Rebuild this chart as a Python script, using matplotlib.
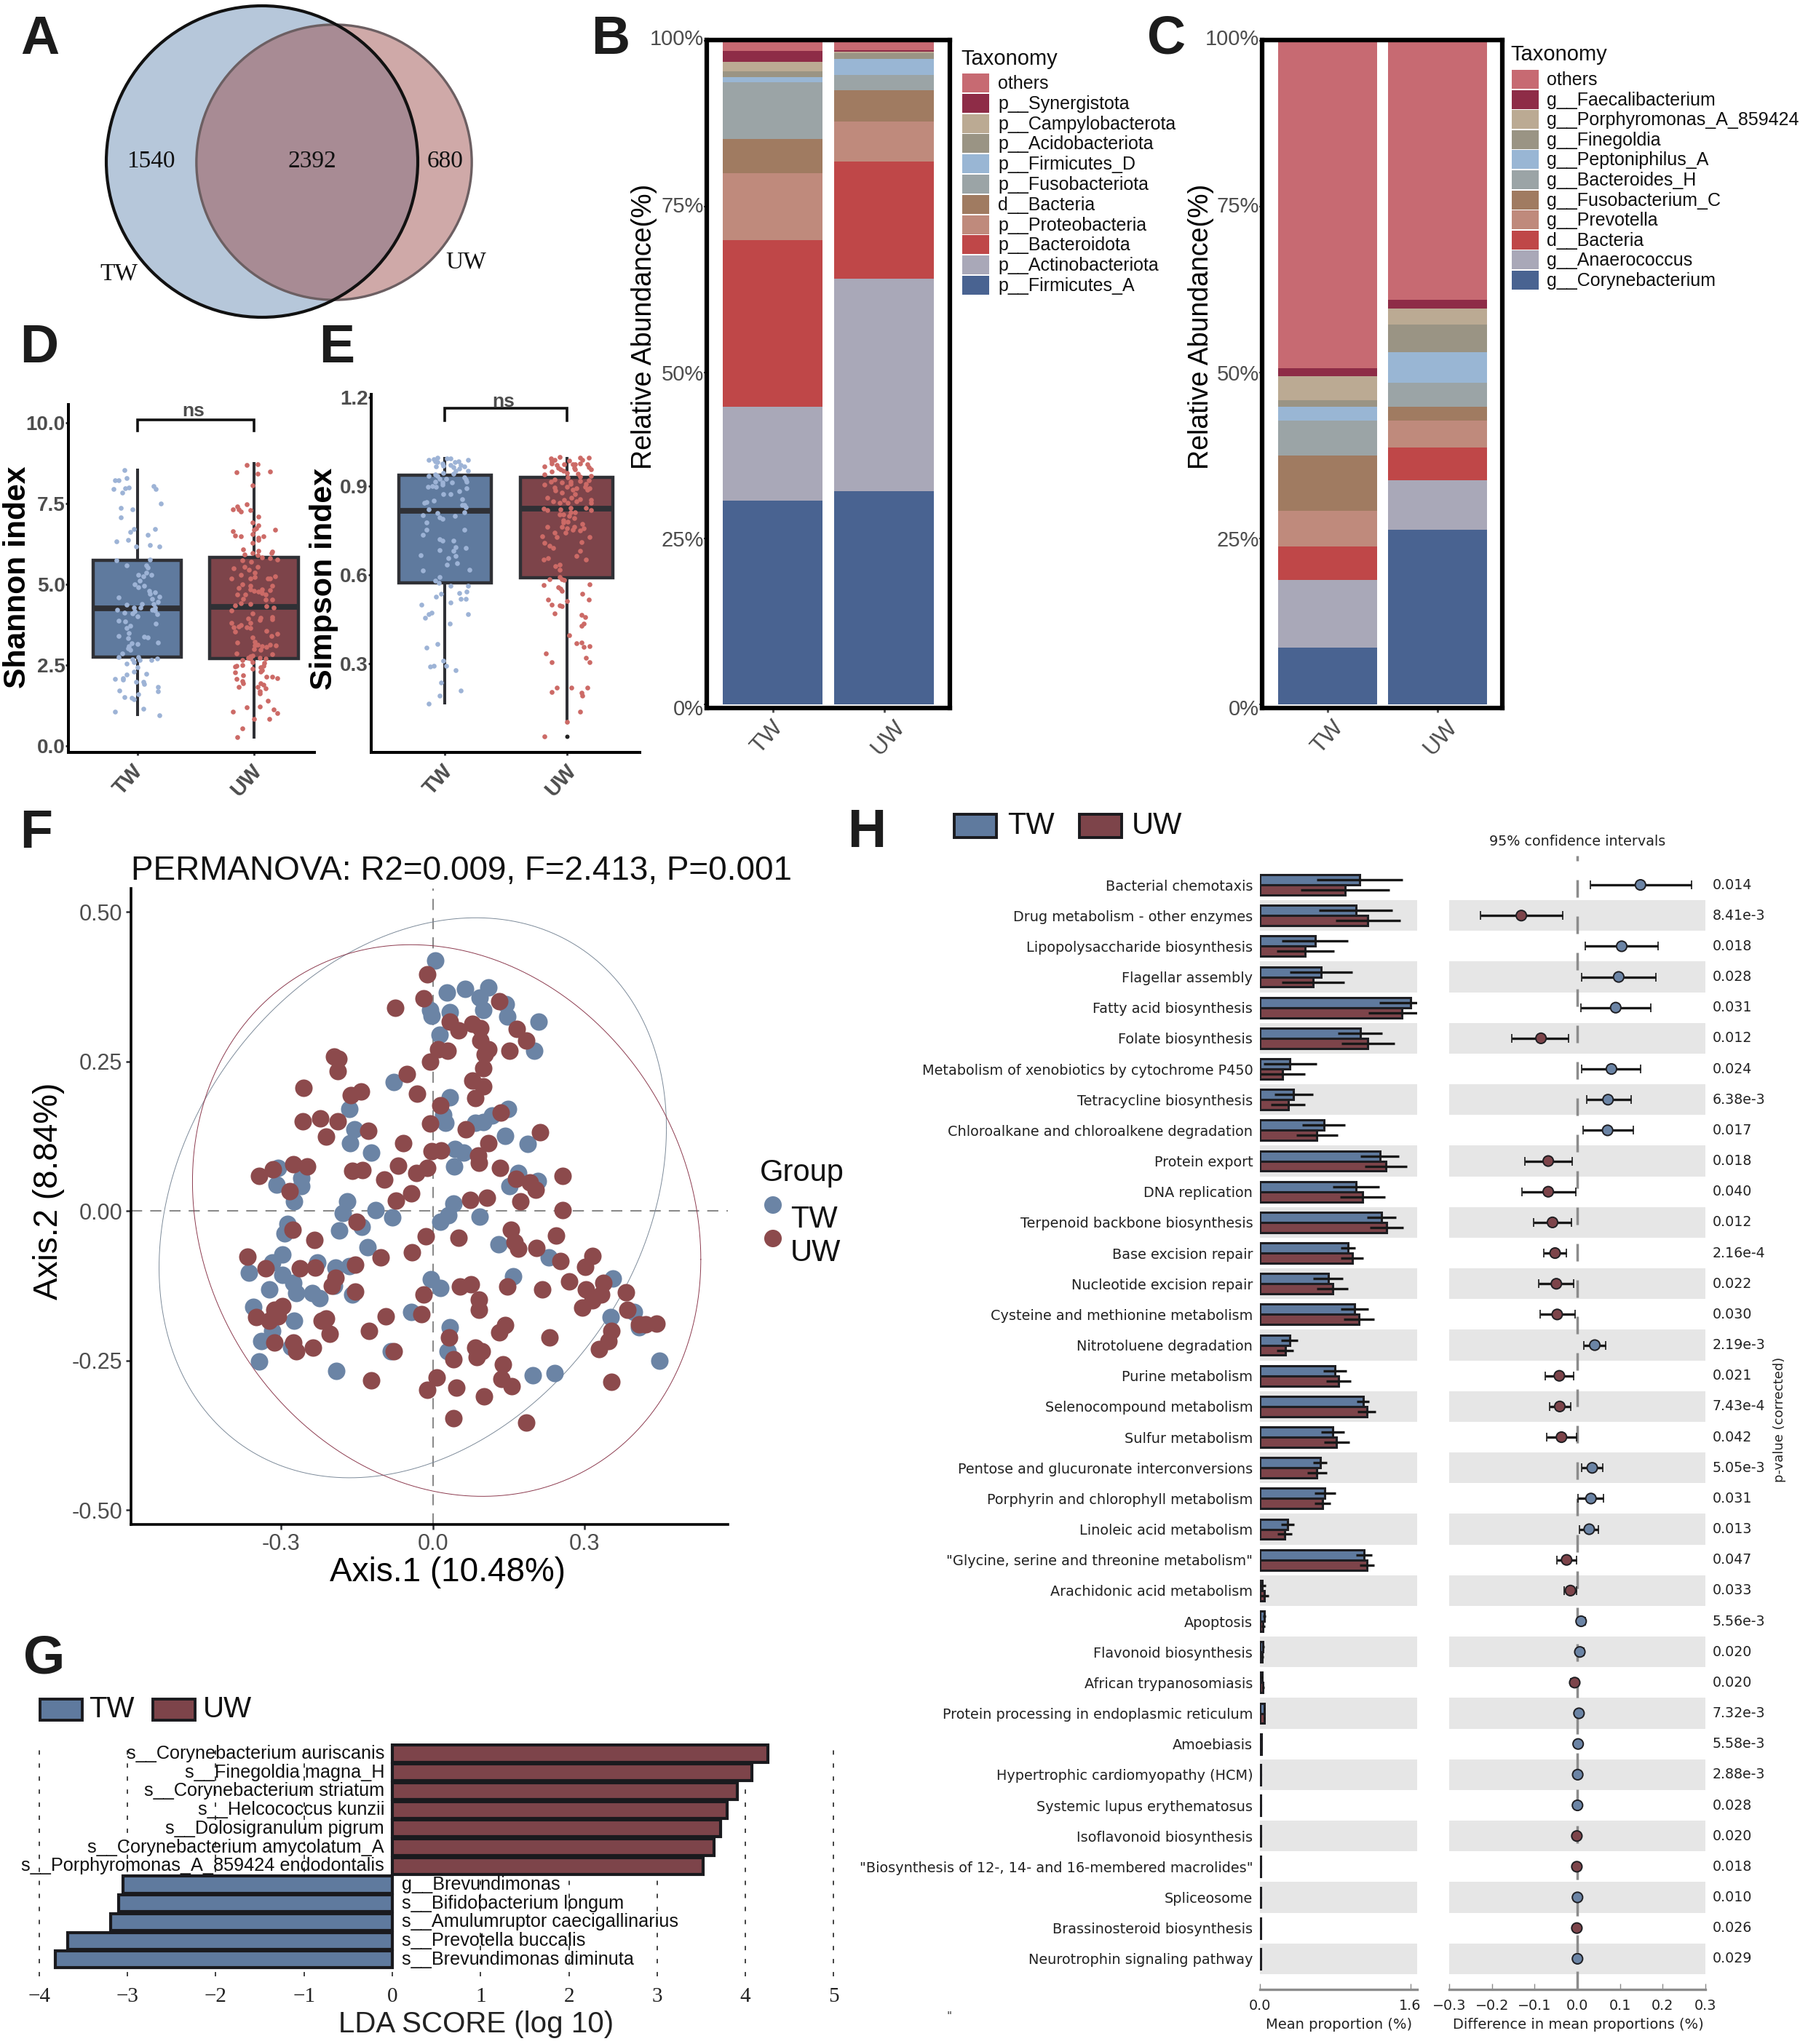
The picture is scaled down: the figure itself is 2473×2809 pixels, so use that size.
import numpy as np
import matplotlib
matplotlib.use("Agg")
import matplotlib.pyplot as plt
from matplotlib.patches import Circle, Rectangle
from matplotlib.transforms import ScaledTranslation

W, H = 2473, 2809
DPI = 100
plt.rcParams['font.family'] = ['Liberation Sans', 'DejaVu Sans']
plt.rcParams['lines.scale_dashes'] = False

# ---------- data ----------
groups = ['TW', 'UW']
venn_only_tw, venn_both, venn_only_uw = 1540, 2392, 680

phylum_labels = ['p__Firmicutes_A', 'p__Actinobacteriota', 'p__Bacteroidota', 'p__Proteobacteria', 'd__Bacteria',
                 'p__Fusobacteriota', 'p__Firmicutes_D', 'p__Acidobacteriota', 'p__Campylobacterota',
                 'p__Synergistota', 'others']
phylum_tw = [30.7, 14.1, 25.1, 10.1, 5.2, 8.5, 0.8, 0.9, 1.4, 1.7, 1.5]
phylum_uw = [32.1, 32.0, 17.7, 6.0, 4.7, 2.3, 2.5, 0.8, 0.3, 0.2, 1.4]

genus_labels = ['g__Corynebacterium', 'g__Anaerococcus', 'd__Bacteria', 'g__Prevotella', 'g__Fusobacterium_C',
                'g__Bacteroides_H', 'g__Peptoniphilus_A', 'g__Finegoldia', 'g__Porphyromonas_A_859424',
                'g__Faecalibacterium', 'others']
genus_tw = [8.5, 10.3, 5.0, 5.4, 8.3, 5.3, 2.0, 1.0, 3.7, 1.2, 49.3]
genus_uw = [26.3, 7.5, 4.9, 4.1, 2.0, 3.7, 4.6, 4.1, 2.4, 1.4, 39.0]
taxa_colors = ['#496391', '#A9A8B8', '#BF4748', '#BF8A7C', '#A07B61', '#9BA4A6', '#99B6D4', '#9A9484', '#BBAA93',
               '#8E2C47', '#C76A72']

# box statistics: low whisker, q1, median, q3, high whisker
shannon_box_tw = [0.97, 2.75, 4.26, 5.74, 8.54]
shannon_box_uw = [0.27, 2.70, 4.30, 5.83, 8.74]
simpson_box_tw = [0.166, 0.572, 0.816, 0.936, 0.993]
simpson_box_uw = [0.10, 0.590, 0.822, 0.928, 0.993]
simpson_outlier_uw = [0.054]

# jittered samples: (horizontal jitter, value)
shannon_tw = [(-.11,8.54),(-.09,8.29),(-.19,8.21),(-.16,8.21),(.14,8.03),(.16,7.96),(-.20,7.96),(-.10,7.97),(-.07,7.99),(-.13,7.83),
 (.20,7.49),(-.14,7.36),(-.04,7.32),(-.14,7.06),(-.03,6.71),(.15,6.72),(-.06,6.63),(.09,6.54),(-.18,6.32),(-.08,6.37),
 (.11,6.22),(-.01,6.17),(.19,6.16),(-.18,5.74),(.11,5.77),(-.09,5.59),(.08,5.59),(.09,5.52),(.08,5.36),(.01,5.30),
 (.05,5.24),(.12,5.30),(.02,5.12),(-.02,4.99),(.01,4.91),(.06,4.96),(.10,4.79),(.11,4.71),(.15,4.76),(-.16,4.60),
 (.19,4.62),(.13,4.56),(.18,4.46),(.04,4.39),(.14,4.39),(-.09,4.38),(-.03,4.29),(.03,4.28),(.15,4.28),(-.17,4.22),
 (.13,4.21),(.15,4.20),(-.11,4.12),(-.04,4.11),(-.02,4.17),(.00,4.02),(.17,4.07),(-.16,3.87),(-.10,3.85),(-.06,3.72),
 (-.09,3.65),(.16,3.78),(-.07,3.49),(-.16,3.41),(.06,3.39),(.09,3.36),(-.08,3.33),(-.05,3.18),(.00,3.16),(.18,3.19),
 (-.07,3.08),(-.08,3.03),(-.06,2.97),(-.13,2.86),(-.16,2.76),(-.04,2.68),(.01,2.76),(.02,2.65),(-.03,2.59),(.12,2.66),
 (.17,2.71),(-.09,2.54),(.00,2.43),(-.03,2.30),(-.09,2.21),(.08,2.24),(-.19,2.08),(-.12,2.10),(-.12,2.05),(-.01,1.99),
 (.05,1.98),(.06,1.91),(.18,1.82),(.18,1.69),(-.15,1.71),(.01,1.61),(-.11,1.52),(-.05,1.49),(-.03,1.45),(.05,1.16),
 (-.19,1.07),(.19,.94)]
shannon_uw = [(-.15,8.47),(-.06,8.69),(.03,8.72),(.14,8.48),(.03,8.43),(-.01,8.07),(-.18,7.32),(-.14,7.41),(-.13,7.32),(-.11,7.24),
 (-.06,7.47),(-.03,7.29),(.04,7.09),(-.01,6.92),(.04,6.82),(.02,6.73),(.00,6.68),(.18,6.69),(-.18,6.64),(-.16,6.50),
 (-.11,6.49),(-.01,6.55),(.08,6.49),(.04,6.44),(.04,6.38),(-.01,6.28),(-.09,6.09),(.04,6.04),(.16,6.02),(.15,5.97),
 (-.08,5.92),(-.01,5.97),(.03,5.91),(.07,5.83),(.14,5.80),(.20,5.76),(-.10,5.74),(-.02,5.69),(.03,5.55),(-.17,5.50),
 (-.08,5.53),(-.04,5.45),(.01,5.35),(-.11,5.29),(.18,5.25),(.01,5.23),(-.03,5.19),(-.19,5.17),(.12,5.18),(.14,5.17),
 (-.10,4.99),(.16,4.95),(-.03,4.95),(-.13,4.89),(-.03,4.84),(.14,4.81),(.00,4.80),(.04,4.77),(.07,4.84),(.07,4.74),
 (.10,4.69),(-.14,4.68),(-.07,4.69),(-.09,4.56),(.10,4.53),(.16,4.53),(-.11,4.41),(-.03,4.39),(-.16,4.34),(.11,4.32),
 (.17,4.28),(-.19,4.20),(-.01,4.10),(-.05,3.94),(.06,3.96),(.05,3.90),(.16,3.99),(.16,3.92),(-.19,3.81),(-.11,3.75),
 (-.03,3.81),(-.17,3.68),(-.13,3.69),(-.06,3.68),(-.03,3.64),(-.16,3.54),(.11,3.56),(.20,3.48),(.15,3.40),(-.01,3.36),
 (.01,3.23),(-.14,3.20),(.01,3.12),(.03,3.13),(.07,3.09),(.14,3.13),(.19,3.11),(.11,3.07),(.00,3.00),(.06,2.98),
 (-.15,2.87),(.16,2.85),(-.03,2.78),(-.01,2.80),(-.05,2.73),(-.03,2.70),(.05,2.72),(.10,2.71),(-.10,2.67),(-.01,2.60),
 (.09,2.57),(-.10,2.50),(-.15,2.49),(-.16,2.46),(.08,2.48),(.06,2.44),(-.01,2.38),(.07,2.34),(.06,2.29),(-.16,2.27),
 (-.09,2.18),(-.15,2.08),(.11,2.15),(.16,2.13),(.20,2.10),(-.10,2.00),(-.09,1.94),(.06,1.93),(.08,1.90),(-.13,1.82),
 (.03,1.82),(.10,1.79),(.05,1.70),(.05,1.63),(.12,1.40),(-.06,1.20),(.05,1.22),(.17,1.13),(.20,1.01),(-.18,1.05),
 (.00,.83),(.13,.83),(-.10,.55),(-.14,.27)]
simpson_tw = [(-.13,.989),(-.09,.991),(-.08,.983),(-.06,.994),(-.06,.981),(-.07,.966),(-.02,.976),(-.01,.968),(.02,.993),(.05,.993),
 (.08,.980),(.11,.984),(.19,.989),(.05,.971),(.07,.964),(.13,.971),(.16,.966),(.12,.958),(.09,.952),(.19,.950),
 (-.01,.943),(.07,.942),(-.13,.935),(-.08,.938),(-.06,.935),(.01,.925),(-.04,.923),(.16,.930),(.17,.921),(.18,.913),
 (-.08,.913),(.06,.912),(-.02,.911),(-.02,.904),(-.14,.896),(-.10,.900),(-.07,.898),(.18,.892),(.12,.883),(-.01,.873),
 (.05,.872),(-.09,.851),(.14,.854),(-.17,.842),(-.15,.845),(.14,.835),(.16,.835),(.17,.827),(-.13,.821),(.16,.812),
 (-.06,.809),(-.18,.801),(.08,.799),(-.04,.793),(-.02,.788),(-.15,.776),(-.15,.752),(.16,.751),(-.18,.734),(-.04,.719),
 (-.02,.715),(.07,.716),(.09,.692),(.17,.690),(-.04,.684),(.07,.681),(-.20,.666),(.09,.663),(.03,.656),(.02,.635),
 (.10,.639),(-.18,.614),(.20,.618),(-.04,.591),(-.08,.581),(-.05,.573),(.05,.563),(.19,.563),(.18,.543),(.12,.539),
 (-.03,.536),(-.07,.526),(.13,.518),(.17,.518),(.05,.506),(-.19,.498),(-.11,.473),(-.13,.467),(.19,.468),(-.16,.455),
 (.04,.436),(-.06,.365),(-.15,.355),(-.01,.309),(-.12,.291),(-.09,.292),(.01,.292),(.09,.277),(-.03,.237),(.13,.210),
 (-.04,.192),(-.13,.165)]
simpson_uw = [(-.13,.993),(-.06,.998),(-.12,.984),(-.10,.989),(-.12,.975),(-.18,.966),(-.08,.971),(-.07,.960),(-.05,.957),(-.02,.972),
 (.02,.986),(.11,.995),(.18,.996),(.13,.987),(.11,.976),(.05,.972),(.07,.972),(.06,.960),(.07,.956),(.17,.972),
 (.18,.964),(.20,.956),(-.12,.949),(-.18,.939),(-.03,.950),(.00,.943),(.09,.942),(.01,.930),(.11,.931),(.20,.934),
 (-.10,.921),(-.13,.915),(-.04,.912),(.03,.915),(.11,.917),(.18,.919),(-.18,.904),(.03,.907),(.16,.907),(.00,.896),
 (-.10,.894),(-.09,.885),(.08,.892),(.05,.888),(.15,.896),(.19,.893),(.17,.886),(-.04,.877),(.07,.872),(-.16,.861),
 (.04,.860),(-.11,.847),(-.06,.842),(-.02,.853),(.01,.843),(.08,.848),(.11,.854),(.20,.852),(.20,.844),(-.19,.823),
 (-.16,.819),(-.05,.821),(.03,.825),(.16,.825),(.20,.818),(-.06,.804),(-.03,.803),(.02,.799),(.03,.812),(.07,.811),
 (.06,.791),(-.03,.783),(-.03,.776),(.01,.780),(.13,.771),(-.16,.762),(-.04,.762),(.00,.758),(.06,.761),(.05,.753),
 (.14,.758),(.11,.750),(-.10,.741),(-.01,.741),(-.08,.728),(-.20,.730),(.19,.728),(-.18,.708),(.12,.709),(-.14,.698),
 (-.11,.690),(.11,.680),(.08,.664),(-.15,.657),(-.19,.651),(.16,.652),(-.06,.635),(-.09,.628),(-.06,.616),(-.06,.593),
 (-.14,.585),(-.04,.585),(-.02,.582),(-.19,.566),(.19,.568),(-.07,.559),(-.05,.554),(-.04,.545),(.13,.536),(.00,.511),
 (-.15,.516),(.18,.515),(-.12,.499),(-.06,.496),(-.04,.495),(-.10,.470),(.12,.464),(.15,.457),(.14,.436),(.12,.428),
 (.02,.395),(.08,.369),(.12,.370),(.14,.356),(.19,.358),(-.17,.333),(.16,.320),(-.12,.305),(.19,.305),(-.08,.219),
 (.04,.219),(.17,.219),(-.12,.203),(.12,.202),(.13,.192),(.11,.138),(.00,.104),(-.18,.054)]

pcoa_tw = [(.004,.418),(.027,.365),(.064,.371),(.109,.373),(.092,.357),(.144,.346),(.099,.336),(-.006,.336),(.034,.332),(-.003,.326),
 (.147,.325),(.209,.316),(.013,.294),(.200,.268),(-.077,.215),(.033,.190),(-.165,.171),(.020,.161),(.149,.171),(.025,.147),
 (.083,.147),(.099,.148),(.117,.159),(-.155,.136),(.143,.126),(-.164,.113),(.187,.112),(-.122,.097),(.043,.104),(.060,.097),
 (.042,.075),(.168,.063),(.208,.050),(-.307,.072),(-.309,.044),(-.260,.055),(-.260,.042),(.152,.042),(-.275,.016),(-.169,.016),
 (-.178,-.003),(-.114,.002),(-.080,-.011),(.041,.012),(.031,-.007),(.015,-.018),(.093,-.009),(-.288,-.022),(-.294,-.037),(-.186,-.033),
 (-.141,-.026),(-.130,-.061),(.129,-.056),(.229,-.078),(-.298,-.073),(-.318,-.086),(-.364,-.103),(-.228,-.086),(-.193,-.095),(-.165,-.092),
 (-.323,-.131),(-.297,-.107),(-.276,-.120),(-.270,-.137),(-.239,-.137),(-.225,-.146),(-.196,-.125),(-.159,-.140),(-.004,-.114),(.015,-.129),
 (.158,-.109),(-.355,-.160),(-.274,-.184),(-.043,-.169),(.355,-.113),(.351,-.177),(.398,-.169),(.408,-.194),(.033,-.194),(-.339,-.218),
 (-.318,-.201),(-.281,-.227),(-.083,-.234),(.029,-.234),(-.344,-.252),(-.191,-.267),(.197,-.275),(.240,-.271),(.448,-.250)]
pcoa_uw = [(-.012,.396),(-.019,.355),(-.074,.340),(.131,.351),(.033,.316),(.050,.302),(.078,.313),(.094,.306),(.094,.285),(.165,.304),
 (.184,.285),(.152,.268),(.110,.270),(.010,.270),(.029,.268),(-.006,.249),(-.196,.258),(-.187,.255),(-.188,.234),(-.052,.229),
 (.102,.262),(.099,.238),(.078,.218),(.099,.208),(.083,.189),(-.256,.206),(-.032,.196),(-.142,.200),(-.162,.194),(.014,.177),
 (-.258,.150),(-.223,.155),(-.188,.150),(-.212,.124),(-.006,.146),(.134,.165),(-.128,.134),(.065,.136),(.212,.131),(-.059,.113),
 (.110,.113),(-.003,.100),(.016,.101),(.089,.093),(.091,.080),(-.069,.076),(-.012,.072),(-.033,.063),(-.159,.067),(-.140,.068),
 (.133,.072),(-.344,.059),(-.316,.069),(-.276,.078),(-.249,.074),(-.096,.052),(.256,.059),(.164,.054),(.191,.048),(.203,.035),
 (-.284,.033),(-.043,.029),(-.073,.017),(.074,.018),(.107,.022),(.173,.016),(.257,.001),(-.151,-.018),(.154,-.031),(-.278,-.032),
 (-.235,-.048),(-.014,-.042),(.051,-.045),(.162,-.052),(.244,-.041),(-.041,-.069),(.168,-.063),(.204,-.062),(-.367,-.076),(-.331,-.096),
 (-.263,-.096),(-.233,-.095),(-.103,-.078),(-.154,-.090),(.252,-.084),(.316,-.075),(.301,-.093),(.270,-.118),(-.193,-.112),(-.200,-.125),
 (-.154,-.135),(.054,-.126),(.075,-.123),(.147,-.126),(.216,-.131),(.302,-.131),(.337,-.120),(.332,-.140),(-.019,-.140),(.381,-.136),
 (.091,-.148),(.316,-.150),(.295,-.161),(.385,-.165),(.091,-.165),(-.297,-.159),(-.313,-.165),(-.307,-.176),(-.350,-.177),(-.323,-.183),
 (-.212,-.180),(-.220,-.184),(-.023,-.173),(-.093,-.176),(-.204,-.205),(-.126,-.201),(.143,-.191),(.131,-.203),(.230,-.212),(.032,-.212),
 (.353,-.201),(.347,-.217),(.329,-.231),(.407,-.189),(.421,-.189),(.442,-.188),(-.313,-.220),(-.276,-.220),(-.237,-.228),(-.270,-.234),
 (-.078,-.234),(.083,-.229),(.097,-.235),(.086,-.244),(.041,-.248),(.138,-.257),(.136,-.281),(.155,-.293),(-.122,-.283),(.007,-.278),
 (.046,-.295),(-.012,-.299),(.101,-.310),(.353,-.286),(.041,-.347),(.185,-.354)]
# ellipse: centre x, centre y, half width, half height, correlation
ellipse_tw = (-.040, .022, .5015, .468, .249)
ellipse_uw = (.027, -.016, .5025, .461, -.141)

lda_labels = ['s__Corynebacterium auriscanis', 's__Finegoldia magna_H', 's__Corynebacterium striatum',
              's__Helcococcus kunzii', 's__Dolosigranulum pigrum', 's__Corynebacterium amycolatum_A',
              's__Porphyromonas_A_859424 endodontalis', 'g__Brevundimonas', 's__Bifidobacterium longum',
              's__Amulumruptor caecigallinarius', 's__Prevotella buccalis', 's__Brevundimonas diminuta']
lda_scores = [4.25, 4.07, 3.91, 3.79, 3.72, 3.64, 3.52, -3.05, -3.10, -3.19, -3.68, -3.82]

path_labels = ['Bacterial chemotaxis', 'Drug metabolism - other enzymes', 'Lipopolysaccharide biosynthesis',
 'Flagellar assembly', 'Fatty acid biosynthesis', 'Folate biosynthesis', 'Metabolism of xenobiotics by cytochrome P450',
 'Tetracycline biosynthesis', 'Chloroalkane and chloroalkene degradation', 'Protein export', 'DNA replication',
 'Terpenoid backbone biosynthesis', 'Base excision repair', 'Nucleotide excision repair',
 'Cysteine and methionine metabolism', 'Nitrotoluene degradation', 'Purine metabolism', 'Selenocompound metabolism',
 'Sulfur metabolism', 'Pentose and glucuronate interconversions', 'Porphyrin and chlorophyll metabolism',
 'Linoleic acid metabolism', '"Glycine, serine and threonine metabolism"', 'Arachidonic acid metabolism', 'Apoptosis',
 'Flavonoid biosynthesis', 'African trypanosomiasis', 'Protein processing in endoplasmic reticulum', 'Amoebiasis',
 'Hypertrophic cardiomyopathy (HCM)', 'Systemic lupus erythematosus', 'Isoflavonoid biosynthesis',
 '"Biosynthesis of 12-, 14- and 16-membered macrolides"', 'Spliceosome', 'Brassinosteroid biosynthesis',
 'Neurotrophin signaling pathway']
path_mean_tw = [1.059,1.020,.588,.654,1.601,1.065,.320,.359,.680,1.275,1.020,1.294,.935,.725,1.007,.314,.797,1.098,
                .778,.641,.693,.294,1.111,.026,.046,.033,.020,.046,.013,.008,.006,.006,.006,.006,.006,.006]
path_err_tw = [.458,.392,.353,.333,.327,.235,.281,.203,.229,.203,.248,.157,.078,.157,.144,.092,.124,.065,
               .124,.072,.111,.072,.085,.033,.013,.013,.013,.007,.003,.002,.001,.001,.001,.001,.001,.001]
path_mean_uw = [.908,1.150,.484,.562,1.510,1.150,.242,.301,.608,1.340,1.092,1.346,.980,.771,1.052,.268,.837,1.137,
                .817,.608,.667,.261,1.137,.046,.033,.026,.033,.046,.013,.008,.006,.006,.006,.006,.006,.006]
path_err_uw = [.471,.346,.307,.333,.359,.281,.235,.183,.222,.222,.242,.176,.118,.163,.163,.092,.131,.098,
               .137,.105,.085,.078,.078,.046,.020,.013,.013,.007,.003,.002,.001,.001,.001,.001,.001,.001]
diff_mean = [.148,-.131,.104,.097,.090,-.085,.080,.072,.071,-.068,-.068,-.058,-.052,-.049,-.047,.041,-.042,-.041,
             -.037,.035,.032,.028,-.025,-.016,.009,.006,-.006,.004,.002,.001,.0005,-.001,-.001,.0005,-.001,.0005]
diff_low = [.031,-.226,.018,.011,.008,-.153,.011,.022,.014,-.123,-.130,-.103,-.078,-.091,-.087,.015,-.075,-.064,
            -.071,.011,.002,.005,-.048,-.031,.001,-.002,-.015,-.004,-.001,-.002,-.002,-.003,-.003,-.002,-.003,-.002]
diff_high = [.268,-.034,.190,.184,.173,-.021,.149,.126,.131,-.012,-.004,-.014,-.025,-.008,-.005,.067,-.008,-.016,
             -.001,.060,.061,.050,-.002,-.002,.018,.015,.002,.011,.005,.004,.003,.001,.001,.003,.001,.003]
p_values = ['0.014','8.41e-3','0.018','0.028','0.031','0.012','0.024','6.38e-3','0.017','0.018','0.040','0.012',
            '2.16e-4','0.022','0.030','2.19e-3','0.021','7.43e-4','0.042','5.05e-3','0.031','0.013','0.047','0.033',
            '5.56e-3','0.020','0.020','7.32e-3','5.58e-3','2.88e-3','0.028','0.020','0.018','0.010','0.026','0.029']

BOX_TW, BOX_UW = '#5F7A9E', '#7D444A'
DOT_TW, DOT_UW = '#9DB3D6', '#CC6A66'
PC_TW, PC_UW = '#6B84A5', '#8C4A4C'
DARK = '#2F3035'
GREY = '#4D4D4D'

# ---------- layout helpers ----------
fig = plt.figure(figsize=(W / DPI, H / DPI), dpi=DPI, facecolor='white')


def px_axes(x0, y0, x1, y1, **kw):
    ax = fig.add_axes([x0 / W, 1 - y1 / H, (x1 - x0) / W, (y1 - y0) / H], **kw)
    ax.patch.set_visible(False)
    return ax


def label_at(ax, which, text, cx, cy, **kw):
    """Axis title centred on a figure pixel position."""
    bb = ax.get_position()
    tx = (cx / W - bb.x0) / bb.width
    ty = ((1 - cy / H) - bb.y0) / bb.height
    if which == 'x':
        ax.set_xlabel(text, va='center', **kw)
        ax.xaxis.set_label_coords(tx, ty)
    else:
        ax.set_ylabel(text, va='center', **kw)
        ax.yaxis.set_label_coords(tx, ty)


def shift_xticklabels(ax, shifts):
    for lbl, s in zip(ax.get_xticklabels(), shifts):
        lbl.set_transform(lbl.get_transform() + ScaledTranslation(s / DPI, 0, fig.dpi_scale_trans))


over = fig.add_axes([0, 0, 1, 1], zorder=20)
over.set_xlim(0, W)
over.set_ylim(H, 0)
over.axis('off')
over.patch.set_alpha(0)


def T(x, y, s, size, **kw):
    kw.setdefault('va', 'center')
    kw.setdefault('ha', 'left')
    return over.text(x, y, s, fontsize=size, **kw)


for s, x, y in [('A', 28, 74), ('B', 812, 74), ('C', 1576, 74), ('D', 27, 498), ('E', 438, 498), ('F', 27, 1165),
                ('G', 32, 2299), ('H', 1164, 1164)]:
    T(x, y, s, 53, fontweight='bold', va='baseline', color='#1C1C1C')

# ---------- A: Venn ----------
unit = 214 / np.sqrt(venn_only_tw + venn_both)
r_tw = unit * np.sqrt(venn_only_tw + venn_both)
r_uw = unit * np.sqrt(venn_only_uw + venn_both)
over.add_patch(Circle((360, 222), r_tw, facecolor='#B6C7DA', edgecolor='none'))
over.add_patch(Circle((459, 223), r_uw, facecolor=(153 / 255, 72 / 255, 70 / 255, .47), edgecolor='#6C5F62', lw=2.4))
over.add_patch(Circle((360, 222), r_tw, facecolor='none', edgecolor='#111111', lw=3.0))
for x, y, s in [(207, 222, str(venn_only_tw)), (429, 222, str(venn_both)), (612, 222, str(venn_only_uw)),
                (163, 376, 'TW'), (640, 360, 'UW')]:
    T(x, y, s, 24, ha='center', family='Liberation Serif', color='#111111')


# ---------- B, C: stacked bars ----------
def stacked(rect, tw, uw, ylab_x, shifts):
    ax = px_axes(*rect)
    bottom = np.zeros(2)
    for a, b, c in zip(tw, uw, taxa_colors):
        ax.bar([1, 2], [a, b], bottom=bottom, width=.9, color=c, linewidth=0)
        bottom += [a, b]
    ax.set_xlim(.407, 2.592)
    ax.set_ylim(-.55, 100.1)
    ax.set_yticks([0, 25, 50, 75, 100], ['0%', '25%', '50%', '75%', '100%'])
    ax.set_xticks([1, 2], groups, rotation=48)
    ax.tick_params(axis='y', labelsize=21, labelcolor=GREY, length=3, width=1.5, pad=0, color=GREY)
    ax.tick_params(axis='x', labelsize=23, labelcolor=GREY, length=4, width=2, pad=4, color=GREY)
    for lbl, s in zip(ax.get_yticklabels(), (-4, 0, 0, 3, 5)):
        lbl.set_transform(lbl.get_transform() + ScaledTranslation(0, s / DPI, fig.dpi_scale_trans))
    for sp in ax.spines.values():
        sp.set_linewidth(4.5)
    label_at(ax, 'y', 'Relative Abundance(%)', ylab_x, 449, fontsize=27)
    shift_xticklabels(ax, shifts)
    return ax


stacked((971, 55, 1305, 973), phylum_tw, phylum_uw, 885, (-8, 6))
stacked((1734, 55, 2064, 973), genus_tw, genus_uw, 1650, (0, 5))


def taxa_legend(title, labels, title_x, title_y, key_x, y0, dy, text_x):
    T(title_x, title_y, title, 21, color='#111111')
    for i, (lab, col) in enumerate(zip(labels[::-1], taxa_colors[::-1])):
        yc = y0 + i * dy
        over.add_patch(Rectangle((key_x, yc - 13), 37, 26, facecolor=col, edgecolor='none'))
        T(text_x, yc + 1, lab, 18, color='#111111')


taxa_legend('Taxonomy', phylum_labels, 1320, 81, 1322, 114, 27.8, 1371)
taxa_legend('Taxonomy', genus_labels, 2075, 75, 2077, 109, 27.6, 2125)


# ---------- D, E: box + jitter ----------
def box_panel(rect, xlim, ylim, yticks, yfmt, box_tw, box_uw, pts_tw, pts_uw, fliers, bracket, ns_y, ylab, ylab_pos,
              ylab_size, shifts):
    ax = px_axes(*rect)
    stats = []
    for b, fl in zip((box_tw, box_uw), fliers):
        stats.append(dict(whislo=b[0], q1=b[1], med=b[2], q3=b[3], whishi=b[4], fliers=fl))
    bp = ax.bxp(stats, positions=[1, 2], widths=.76, patch_artist=True, showcaps=False,
                boxprops=dict(edgecolor=DARK, linewidth=3.2),
                medianprops=dict(color=DARK, linewidth=5.6, solid_capstyle='butt'),
                whiskerprops=dict(color=DARK, linewidth=2.9),
                flierprops=dict(marker='o', markersize=4.3, markerfacecolor='#222222', markeredgecolor='none'))
    for patch, c in zip(bp['boxes'], (BOX_TW, BOX_UW)):
        patch.set_facecolor(c)
    for pos, pts, c in ((1, pts_tw, DOT_TW), (2, pts_uw, DOT_UW)):
        arr = np.array(pts)
        ax.scatter(pos + arr[:, 0], arr[:, 1], s=23, color=c, linewidths=0, zorder=5)
    ax.set_xlim(*xlim)
    ax.set_ylim(*ylim)
    ax.set_yticks(yticks, [yfmt % t for t in yticks])
    ax.set_xticks([1, 2], groups, rotation=48)
    ax.tick_params(axis='both', labelsize=20, labelcolor=GREY, length=3, width=2, color=DARK)
    ax.tick_params(axis='y', pad=0)
    ax.tick_params(axis='x', labelsize=21, pad=5)
    for lbl in ax.get_xticklabels() + ax.get_yticklabels():
        lbl.set_fontweight('bold')
    ax.spines['top'].set_visible(False)
    ax.spines['right'].set_visible(False)
    ax.spines['left'].set_linewidth(2.9)
    ax.spines['bottom'].set_linewidth(2.9)
    ax.plot([1, 1, 2, 2], [bracket[1], bracket[0], bracket[0], bracket[1]], color='#111111', lw=2.6,
            solid_joinstyle='miter')
    ax.text(1.48, ns_y, 'ns', ha='center', va='center', fontsize=19, fontweight='bold', color=GREY)
    label_at(ax, 'y', ylab, ylab_pos[0], ylab_pos[1], fontsize=ylab_size, fontweight='bold')
    shift_xticklabels(ax, shifts)
    return ax


box_panel((94, 556, 432, 1034), (.41, 2.52), (-.2, 10.56), [0, 2.5, 5, 7.5, 10], '%.1f',
          shannon_box_tw, shannon_box_uw, shannon_tw, shannon_uw, ([], []), (10.09, 9.75), 10.35,
          'Shannon index', (24, 793), 30.7, (-13, -10))
box_panel((510, 542, 879, 1034), (.396, 2.60), (0, 1.209), [.3, .6, .9, 1.2], '%.1f',
          simpson_box_tw, simpson_box_uw, simpson_tw, simpson_uw, ([], simpson_outlier_uw), (1.162, 1.12), 1.185,
          'Simpson index', (445, 795), 31, (-9, -8))

# ---------- F: PCoA ----------
axF = px_axes(180, 1221, 1000, 2095)
axF.set_xlim(-.597, .583)
axF.set_ylim(-.524, .539)
axF.axhline(0, color='#666666', lw=1.1, ls=(0, (11, 8)), zorder=1)
axF.axvline(0, color='#666666', lw=1.1, ls=(0, (11, 8)), zorder=1)
t = np.linspace(0, 2 * np.pi, 500)
for (cx, cy, a, b, rho), c in ((ellipse_tw, '#7C8A99'), (ellipse_uw, '#8C3A4E')):
    axF.plot(cx + a * np.cos(t), cy + b * (rho * np.cos(t) + np.sqrt(1 - rho ** 2) * np.sin(t)), color=c, lw=.7,
             zorder=2)
for pts, c in ((pcoa_tw, PC_TW), (pcoa_uw, PC_UW)):
    arr = np.array(pts)
    axF.scatter(arr[:, 0], arr[:, 1], s=300, color=c, linewidths=0, zorder=3)
axF.set_xticks([-.3, 0, .3], ['-0.3', '0.0', '0.3'])
axF.set_yticks([-.5, -.25, 0, .25, .5], ['-0.50', '-0.25', '0.00', '0.25', '0.50'])
axF.tick_params(axis='both', labelsize=22, labelcolor=GREY, length=5, width=1.8, color=DARK)
axF.spines['top'].set_visible(False)
axF.spines['right'].set_visible(False)
axF.spines['left'].set_linewidth(2.6)
axF.spines['bottom'].set_linewidth(2.6)
axF.set_title('PERMANOVA: R2=0.009, F=2.413, P=0.001', loc='left', fontsize=33, pad=9, color='#111111')
label_at(axF, 'x', 'Axis.1 (10.48%)', 615, 2161, fontsize=33)
label_at(axF, 'y', 'Axis.2 (8.84%)', 67, 1637, fontsize=33)
T(1044, 1612, 'Group', 30, color='#111111')
over.scatter([1062, 1062], [1656, 1702], s=300, c=[PC_TW, PC_UW], linewidths=0)
T(1086, 1676, 'TW', 30, color='#111111')
T(1086, 1722, 'UW', 30, color='#111111')


def mini_legend(x1, x2, tx1, tx2, y0, y1, size):
    for x, c in ((x1, BOX_TW), (x2, BOX_UW)):
        over.add_patch(Rectangle((x, y0), 58, y1 - y0, facecolor=c, edgecolor='#1A1A1E', lw=2.8))
    T(tx1, (y0 + y1) / 2, groups[0], size, color='#111111')
    T(tx2, (y0 + y1) / 2, groups[1], size, color='#111111')


# ---------- G: LDA ----------
mini_legend(55, 210, 122, 279, 2335, 2364, 29)
axG = px_axes(20, 2396, 1165, 2716)
axG.set_xlim(-4.279, 5.161)
axG.set_ylim(11.9, -.545)
axG.set_axisbelow(True)
axG.grid(axis='x', color='#111111', lw=1.1, ls=(0, (4.3, 8.6)))
rows = np.arange(len(lda_scores))
axG.barh(rows, lda_scores, height=.9, color=[BOX_UW if v > 0 else BOX_TW for v in lda_scores], edgecolor='#1A1A1E',
         linewidth=3, zorder=3)
for i, (lab, v) in enumerate(zip(lda_labels, lda_scores)):
    axG.text(-.09 if v > 0 else .107, i, lab, ha='right' if v > 0 else 'left', va='center', fontsize=18.15, zorder=4,
             color='#111111')
axG.set_xticks(range(-4, 6))
axG.set_yticks([])
for lbl in axG.get_xticklabels():
    lbl.set_family('Liberation Serif')
axG.tick_params(axis='x', length=0, labelsize=21, pad=11, labelcolor='#222222')
for sp in axG.spines.values():
    sp.set_visible(False)
label_at(axG, 'x', 'LDA SCORE (log 10)', 654, 2782, fontsize=29, color='#222222')

# ---------- H: extended error bar ----------
mini_legend(1311, 1483, 1384, 1555, 1119, 1151, 30)
dj = 'DejaVu Sans'
axB = px_axes(1731, 1195, 1947, 2734)
axD = px_axes(1991, 1195, 2343, 2734)
n = len(path_labels)
rows = np.arange(n)
for ax in (axB, axD):
    ax.set_ylim(36, -.5)
    for i in rows[1::2]:
        ax.axhspan(i - .5, i + .5, color='#E6E6E6', linewidth=0, zorder=0)
    for side in ('top', 'right', 'left'):
        ax.spines[side].set_visible(False)
    ax.spines['bottom'].set_color('#8C8C8C')
    ax.spines['bottom'].set_linewidth(2.4)
axB.set_xlim(0, 1.673)
axB.barh(rows - .165, path_mean_tw, height=.33, color=BOX_TW, edgecolor='#1E1E22', linewidth=2.2, zorder=2)
axB.barh(rows + .165, path_mean_uw, height=.33, color=BOX_UW, edgecolor='#1E1E22', linewidth=2.2, zorder=2)
axB.errorbar(path_mean_tw, rows - .165, xerr=path_err_tw, fmt='none', ecolor='#181818', elinewidth=2.4, zorder=3)
axB.errorbar(path_mean_uw, rows + .165, xerr=path_err_uw, fmt='none', ecolor='#181818', elinewidth=2.4, zorder=3)
axB.set_yticks(rows, path_labels)
axB.tick_params(axis='y', length=0, pad=7, labelsize=13.9, labelcolor='#222222')
for lbl in axB.get_yticklabels():
    lbl.set_family(dj)
axB.set_xticks([0, 1.6], ['0.0', '1.6'])
axD.set_xlim(-.3, .3)
axD.plot([0, 0], [-.96, 36], color='#8C8C8C', lw=2.5, ls=(12.2, (17.3, 18.7)), clip_on=False, zorder=1,
         solid_capstyle='butt', dash_capstyle='butt')
diff_mean_a, lo, hi = np.array(diff_mean), np.array(diff_low), np.array(diff_high)
axD.errorbar(diff_mean_a, rows, xerr=[diff_mean_a - lo, hi - diff_mean_a], fmt='none', ecolor='#181818', elinewidth=2.4,
             capsize=4.2, capthick=1.2, zorder=3)
axD.scatter(diff_mean_a, rows, s=105, c=[PC_TW if v > 0 else BOX_UW for v in diff_mean_a], edgecolors='#1E1E22',
            linewidths=1.4, zorder=4)
axD.set_yticks([])
axD.set_xticks(np.arange(-3, 4) / 10, ['\u22120.3', '\u22120.2', '\u22120.1', '0.0', '0.1', '0.2', '0.3'])
for ax in (axB, axD):
    ax.tick_params(axis='x', direction='in', length=6, width=1, color='#8C8C8C', labelsize=13.8, pad=9,
                   labelcolor='#222222')
    for lbl in ax.get_xticklabels():
        lbl.set_family(dj)
for i, p in enumerate(p_values):
    axD.text(.317, i, p, ha='left', va='center', fontsize=13.7, family=dj, color='#222222', clip_on=False)
label_at(axB, 'x', 'Mean proportion (%)', 1840, 2783, fontsize=14, family=dj, color='#222222')
label_at(axD, 'x', 'Difference in mean proportions (%)', 2168, 2783, fontsize=14, family=dj, color='#222222')
T(2167, 1156, '95% confidence intervals', 13.8, ha='center', family=dj, color='#222222')
T(2445, 1951, 'p-value (corrected)', 13, ha='center', rotation=90, family=dj, color='#222222')
T(1304, 2771, '"', 11, ha='center', family=dj, color='#333333')

fig.savefig('out.png', dpi=DPI, facecolor='white')
